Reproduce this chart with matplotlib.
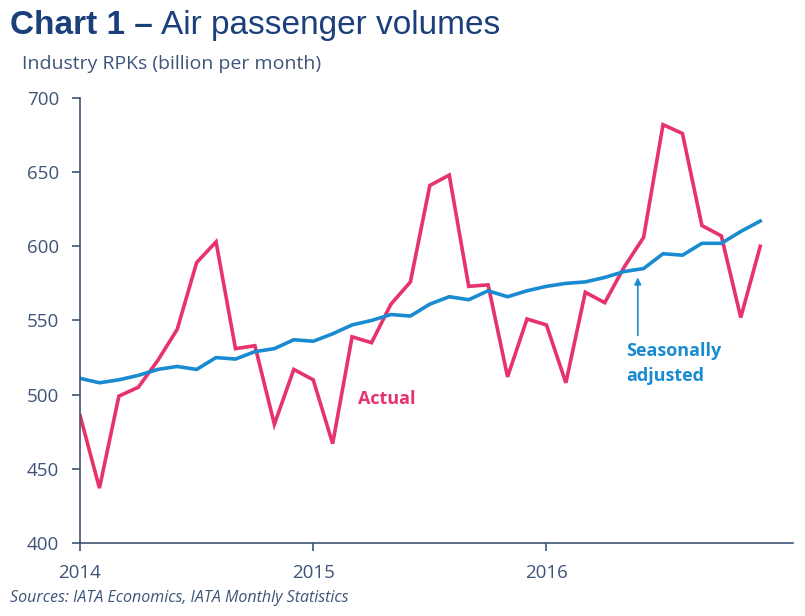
import matplotlib.pyplot as plt
import numpy as np

# Monthly industry RPKs, Jan 2014 - Dec 2016 (billion per month)
months = np.arange(36)
actual = [486, 437, 499, 505, 523, 544, 589, 603, 531, 533, 480, 517,
          510, 467, 539, 535, 561, 576, 641, 648, 573, 574, 512, 551,
          547, 508, 569, 562, 586, 606, 682, 676, 614, 607, 552, 600]
seas_adj = [511, 508, 510, 513, 517, 519, 517, 525, 524, 529, 531, 537,
            536, 541, 547, 550, 554, 553, 561, 566, 564, 570, 566, 570,
            573, 575, 576, 579, 583, 585, 595, 594, 602, 602, 610, 617]
year_ticks = [0, 12, 24]
year_labels = ["2014", "2015", "2016"]
y_ticks = [400, 450, 500, 550, 600, 650, 700]

red = "#E6336B"
blue = "#1A8BD0"
navy = "#1B3F7A"
slate = "#3E5478"

fig = plt.figure(figsize=(8.05, 6.16), dpi=100)
ax = fig.add_axes([0.0994, 0.1185, 0.886, 0.7225])

ax.plot(months, actual, color=red, lw=2.6, solid_joinstyle="miter")
ax.plot(months, seas_adj, color=blue, lw=2.6, solid_joinstyle="miter")

ax.set_xlim(0, 36.7)
ax.set_ylim(400, 700)
ax.set_xticks(year_ticks)
ax.set_xticklabels(year_labels)
ax.set_yticks(y_ticks)

for s in ["top", "right"]:
    ax.spines[s].set_visible(False)
for s in ["left", "bottom"]:
    ax.spines[s].set_color(slate)
    ax.spines[s].set_linewidth(1.2)
ax.tick_params(axis="both", colors=slate, labelsize=13.5, length=6, width=1.2)
ax.tick_params(axis="x", pad=9)
ax.tick_params(axis="y", pad=9)
for lab in ax.get_xticklabels() + ax.get_yticklabels():
    lab.set_fontfamily("Open Sans")
    lab.set_color(slate)

# annotations
ax.text(14.3, 497, "Actual", color=red, fontsize=13, fontweight="bold",
        family="Open Sans", va="center")
ax.text(28.1, 521, "Seasonally\nadjusted", color=blue, fontsize=13,
        fontweight="bold", family="Open Sans", va="center", linespacing=1.45)
ax.annotate("", xy=(28.7, 579), xytext=(28.7, 540),
            arrowprops=dict(arrowstyle="-|>", color=blue, lw=1.2,
                            mutation_scale=10, shrinkA=0, shrinkB=0))

# titles and source
fig.text(0.012, 0.945, "Chart 1 \u2013", color=navy, fontsize=24,
         fontweight="bold", family="Liberation Sans", va="baseline")
fig.text(0.2, 0.945, "Air passenger volumes", color=navy, fontsize=24,
         family="Liberation Sans", va="baseline")
fig.text(0.027, 0.888, "Industry RPKs (billion per month)", color=slate,
         fontsize=14, family="Open Sans", va="baseline")
fig.text(0.012, 0.022, "Sources: IATA Economics, IATA Monthly Statistics",
         color=slate, fontsize=11.5, style="italic", family="Open Sans",
         va="baseline")

fig.savefig("out.png", dpi=100)
